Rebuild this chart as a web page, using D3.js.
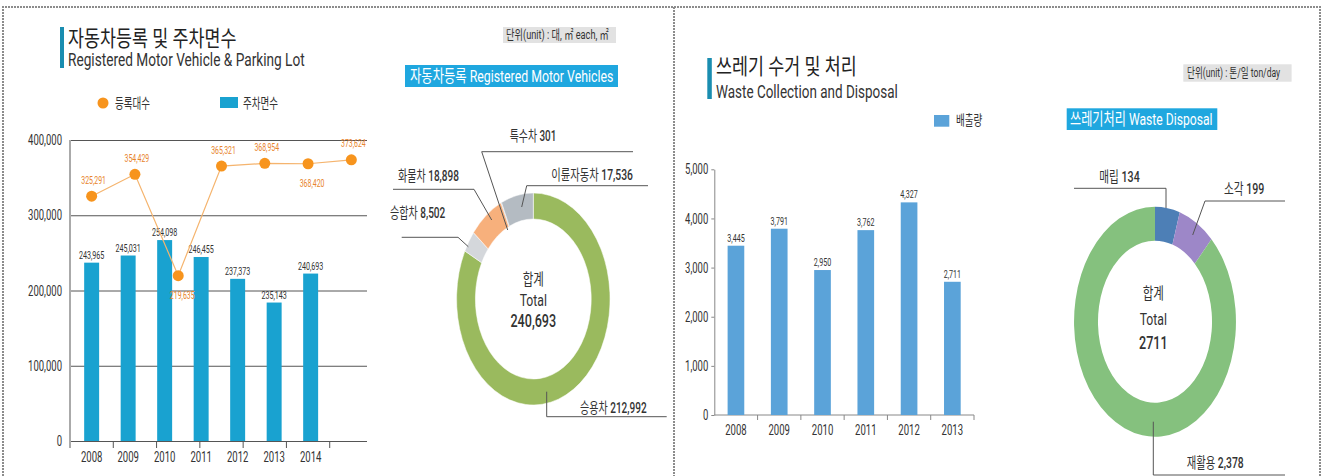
<!DOCTYPE html>
<html>
<head>
<meta charset="utf-8">
<script src="https://cdn.jsdelivr.net/npm/d3@7"></script>
<style>
body { margin: 0; background: #fff; }
svg { display: block; }
text { font-family: Roboto, "Noto Sans CJK KR", sans-serif; }
</style>
</head>
<body>
<svg id="chart" width="1327" height="476"></svg>
<script>
// ---- data ----
var years = ["2008", "2009", "2010", "2011", "2012", "2013", "2014"];
var registered = [325291, 354429, 219635, 365321, 368954, 368420, 373624];
var parkingLabels = [243965, 245031, 254098, 246455, 237373, 235143, 240693];
// bar heights as printed in the source (they do not follow the labels)
var parkingBars = [237000, 246500, 267000, 244500, 215500, 184000, 222500];

var vehicleTypes = ["승용차", "승합차", "화물차", "특수차", "이륜자동차"];
var vehicleCounts = [212992, 8502, 18898, 301, 17536];
var vehicleTotal = "240,693";

var wasteYears = ["2008", "2009", "2010", "2011", "2012", "2013"];
var wasteAmounts = [3445, 3791, 2950, 3762, 4327, 2711];

var disposalTypes = ["매립", "소각", "재활용"];
var disposalAmounts = [134, 199, 2378];
var disposalTotal = "2711";

var svg = d3.select("#chart");
var fmt = d3.format(",");
var SX = 0.7;   // the source is squeezed horizontally

function txt(g, x, y, s, size, o) {
    o = o || {};
    var t = g.append("text")
        .attr("transform", "translate(" + x + "," + y + ") scale(" + (o.sx || SX) + ",1)")
        .attr("text-anchor", o.anchor || "start")
        .attr("dominant-baseline", "central")
        .attr("font-size", size)
        .attr("font-weight", o.weight || 400)
        .attr("fill", o.fill || "#333");
    if (Array.isArray(s)) {
        s.forEach(function(p) { t.append("tspan").attr("font-weight", p[1]).text(p[0]); });
    } else {
        t.text(s);
    }
    return t;
}

function leader(g, pts) {
    g.append("path")
        .attr("d", d3.line()(pts))
        .attr("fill", "none")
        .attr("stroke", "#555")
        .attr("stroke-width", 1);
}

// ---- dotted frame ----
svg.append("path")
    .attr("d", "M3,476 V7 H1320 V476 M674,7 V476")
    .attr("fill", "none")
    .attr("stroke", "#8c8c8c")
    .attr("stroke-width", 2)
    .attr("stroke-dasharray", "2 1");

// ================= left panel =================
var L = svg.append("g");

L.append("rect").attr("x", 60).attr("y", 27).attr("width", 4).attr("height", 41).attr("fill", "#1a8db0");
txt(L, 68, 38.5, "자동차등록 및 주차면수", 22, {sx: 0.79, fill: "#222"});
txt(L, 68, 60, "Registered Motor Vehicle & Parking Lot", 18, {sx: 0.76});

L.append("rect").attr("x", 503).attr("y", 27).attr("width", 113).attr("height", 16).attr("fill", "#e2e2e2");
txt(L, 506, 35, "단위(unit) : 대, ㎡ each, ㎡", 13, {sx: 0.71});

L.append("rect").attr("x", 405).attr("y", 65).attr("width", 213).attr("height", 22).attr("fill", "#1fa7df");
txt(L, 410, 76, "자동차등록 Registered Motor Vehicles", 17, {sx: 0.725, fill: "#fff"});

// legend
L.append("circle").attr("cx", 103).attr("cy", 103).attr("r", 5.5).attr("fill", "#f7941d");
txt(L, 115, 103, "등록대수", 14, {sx: 0.68});
L.append("rect").attr("x", 220).attr("y", 97).attr("width", 18).attr("height", 11).attr("fill", "#19a2d0");
txt(L, 243, 103, "주차면수", 14, {sx: 0.68});

// scales
var yL = d3.scaleLinear().domain([0, 400000]).range([441, 140]);
var xLine = d3.scaleBand().domain(years).range([70, 373]);
var xBar = d3.scaleBand().domain(years).range([73.4, 328.9]).paddingInner(0.59).paddingOuter(0.295);

var gyL = L.append("g").attr("transform", "translate(70,0)")
    .call(d3.axisLeft(yL).tickValues([0, 100000, 200000, 300000, 400000]).tickSize(-297).tickFormat(fmt));
gyL.select(".domain").remove();
gyL.selectAll("line").attr("stroke", "#555");
gyL.selectAll("text")
    .attr("x", null).attr("dy", null)
    .attr("dominant-baseline", "central")
    .attr("transform", "translate(-8,0) scale(0.68,1)")
    .attr("font-size", 14).attr("fill", "#333").attr("font-family", null);

L.append("line").attr("x1", 70).attr("x2", 70).attr("y1", 140).attr("y2", 448)
    .attr("stroke", "#aaa").attr("stroke-width", 2);

L.selectAll(".xtick").data(years.slice(1)).enter().append("line")
    .attr("x1", function(d) { return xLine(d); })
    .attr("x2", function(d) { return xLine(d); })
    .attr("y1", 441).attr("y2", 448)
    .attr("stroke", "#555");

years.forEach(function(y) {
    txt(L, xBar(y) + xBar.bandwidth() / 2, 457, y, 14.5, {anchor: "middle", sx: 0.66});
});

// bars
L.selectAll(".bar").data(parkingBars).enter().append("rect")
    .attr("x", function(d, i) { return xBar(years[i]); })
    .attr("y", function(d) { return yL(d); })
    .attr("width", xBar.bandwidth())
    .attr("height", function(d) { return yL(0) - yL(d); })
    .attr("fill", "#19a2d0");

parkingBars.forEach(function(d, i) {
    txt(L, xBar(years[i]) + xBar.bandwidth() / 2, yL(d) - 7.5, fmt(parkingLabels[i]), 10.5, {anchor: "middle", sx: 0.68});
});

// line
var lx = function(i) { return xLine(years[i]) + xLine.bandwidth() / 2; };
L.append("path")
    .attr("d", d3.line().x(function(d, i) { return lx(i); }).y(function(d) { return yL(d); })(registered))
    .attr("fill", "none")
    .attr("stroke", "#f5b46e")
    .attr("stroke-width", 1.2);

L.selectAll(".pt").data(registered).enter().append("circle")
    .attr("cx", function(d, i) { return lx(i); })
    .attr("cy", function(d) { return yL(d); })
    .attr("r", 5.5)
    .attr("fill", "#f7941d");

registered.forEach(function(d, i) {
    var below = i > 0 && d < registered[i - 1];
    txt(L, lx(i) + (below ? 4 : 2), yL(d) + (below ? 20 : -16), fmt(d), 10.5, {anchor: "middle", sx: 0.66, fill: "#e8842c"});
});

// donut: registered vehicles
var vehColors = ["#9aba5e", "#d4d7db", "#f7b07c", "#8f979e", "#b4bbc2"];
var d1 = L.append("g").attr("transform", "translate(533.3,299) scale(0.724,1)");
var arc1 = d3.arc().innerRadius(80).outerRadius(106);
d1.selectAll("path").data(d3.pie().sort(null).value(function(d) { return d; })(vehicleCounts))
    .enter().append("path")
    .attr("d", arc1)
    .attr("fill", function(d, i) { return vehColors[i]; })
    .attr("stroke", "#fff")
    .attr("stroke-width", 0.6);

txt(L, 533.3, 279.3, "합계", 16, {anchor: "middle", sx: 0.72});
txt(L, 533.3, 300, "Total", 17, {anchor: "middle", sx: 0.72});
txt(L, 533.3, 321.7, vehicleTotal, 18, {anchor: "middle", sx: 0.7, weight: 500});

// callouts
txt(L, 533, 135, [[vehicleTypes[3] + " ", 400], [fmt(vehicleCounts[3]), 500]], 15, {anchor: "middle", sx: 0.66});
leader(L, [[633, 151.7], [481.7, 151.7], [507.7, 230]]);

txt(L, 633, 174, [[vehicleTypes[4] + " ", 400], [fmt(vehicleCounts[4]), 500]], 15, {anchor: "end", sx: 0.69});
leader(L, [[648, 185.7], [526.7, 185.7], [521.7, 207]]);

txt(L, 398, 175, [[vehicleTypes[2] + " ", 400], [fmt(vehicleCounts[2]), 500]], 15, {sx: 0.67});
leader(L, [[393, 189.3], [474, 189.3], [491.7, 220]]);

txt(L, 390, 212, [[vehicleTypes[1] + " ", 400], [fmt(vehicleCounts[1]), 500]], 15, {sx: 0.67});
leader(L, [[401.7, 237.3], [458, 237.3], [468.3, 246.7]]);

txt(L, 580, 407.3, [[vehicleTypes[0] + " ", 400], [fmt(vehicleCounts[0]), 500]], 15, {sx: 0.67});
leader(L, [[546.7, 391.7], [546.7, 416.7], [666.7, 416.7]]);

// ================= right panel =================
var R = svg.append("g");

R.append("rect").attr("x", 707.3).attr("y", 58).attr("width", 4.5).attr("height", 41).attr("fill", "#1a8db0");
txt(R, 716, 66.5, "쓰레기 수거 및 처리", 22, {sx: 0.79, fill: "#222"});
txt(R, 716, 92.2, "Waste Collection and Disposal", 17.5, {sx: 0.77});

R.append("rect").attr("x", 1183.3).attr("y", 64.3).attr("width", 108.3).attr("height", 17.4).attr("fill", "#e2e2e2");
txt(R, 1187, 73, "단위(unit) : 톤/일 ton/day", 13, {sx: 0.66});

R.append("rect").attr("x", 1066.7).attr("y", 108.3).attr("width", 150.6).attr("height", 21.7).attr("fill", "#1fa7df");
txt(R, 1070, 119, "쓰레기처리 Waste Disposal", 17, {sx: 0.715, fill: "#fff"});

R.append("rect").attr("x", 934).attr("y", 115).attr("width", 15.3).attr("height", 11.7).attr("fill", "#5ba3d9");
txt(R, 956, 120.5, "배출량", 14, {sx: 0.68});

var yR = d3.scaleLinear().domain([0, 5000]).range([415, 169.3]);
var xR = d3.scaleBand().domain(wasteYears).range([714.3, 974]).paddingInner(0.615).paddingOuter(0.3075);

var gyR = R.append("g").attr("transform", "translate(714.3,0)")
    .call(d3.axisLeft(yR).tickValues([0, 1000, 2000, 3000, 4000, 5000]).tickSize(3).tickSizeOuter(0).tickFormat(fmt));
gyR.select(".domain").attr("stroke", "#888");
gyR.selectAll("line").attr("stroke", "#888");
gyR.selectAll("text")
    .attr("x", null).attr("dy", null)
    .attr("dominant-baseline", "central")
    .attr("transform", "translate(-6,0) scale(0.68,1)")
    .attr("font-size", 14).attr("fill", "#333").attr("font-family", null);

R.append("line").attr("x1", 714.3).attr("x2", 974).attr("y1", 415).attr("y2", 415).attr("stroke", "#888");
R.selectAll(".xtick").data(wasteYears).enter().append("line")
    .attr("x1", function(d) { return xR(d) - xR.paddingOuter() * xR.step() + xR.step(); })
    .attr("x2", function(d) { return xR(d) - xR.paddingOuter() * xR.step() + xR.step(); })
    .attr("y1", 415).attr("y2", 420)
    .attr("stroke", "#888");

wasteYears.forEach(function(y) {
    txt(R, xR(y) + xR.bandwidth() / 2, 430, y, 14.5, {anchor: "middle", sx: 0.66});
});

R.selectAll(".bar").data(wasteAmounts).enter().append("rect")
    .attr("x", function(d, i) { return xR(wasteYears[i]); })
    .attr("y", function(d) { return yR(d); })
    .attr("width", xR.bandwidth())
    .attr("height", function(d) { return yR(0) - yR(d); })
    .attr("fill", "#5ba3d9");

wasteAmounts.forEach(function(d, i) {
    txt(R, xR(wasteYears[i]) + xR.bandwidth() / 2, yR(d) - 7.5, fmt(d), 10.5, {anchor: "middle", sx: 0.68});
});

// donut: waste disposal
var dispColors = ["#4d7fb6", "#9d87c8", "#85c17e"];
var d2 = R.append("g").attr("transform", "translate(1155,321.7) scale(0.704,1)");
var arc2 = d3.arc().innerRadius(81).outerRadius(115);
d2.selectAll("path").data(d3.pie().sort(null).value(function(d) { return d; })(disposalAmounts))
    .enter().append("path")
    .attr("d", arc2)
    .attr("fill", function(d, i) { return dispColors[i]; });

txt(R, 1153.3, 293.3, "합계", 16, {anchor: "middle", sx: 0.72});
txt(R, 1153.3, 319.3, "Total", 17, {anchor: "middle", sx: 0.72});
txt(R, 1153.3, 343.3, disposalTotal, 18, {anchor: "middle", sx: 0.7, weight: 500});

txt(R, 1099.3, 176.7, [[disposalTypes[0] + " ", 400], [fmt(disposalAmounts[0]), 500]], 15, {sx: 0.71});
leader(R, [[1074, 188.3], [1166, 188.3], [1166, 208]]);

txt(R, 1224, 188.3, [[disposalTypes[1] + " ", 400], [fmt(disposalAmounts[1]), 500]], 15, {sx: 0.71});
leader(R, [[1285, 201], [1205, 201], [1192.7, 235]]);

txt(R, 1186.7, 461.7, [[disposalTypes[2] + " ", 400], [fmt(disposalAmounts[2]), 500]], 15, {sx: 0.69});
leader(R, [[1153.3, 421.7], [1153.3, 475], [1285, 475]]);
</script>
</body>
</html>
